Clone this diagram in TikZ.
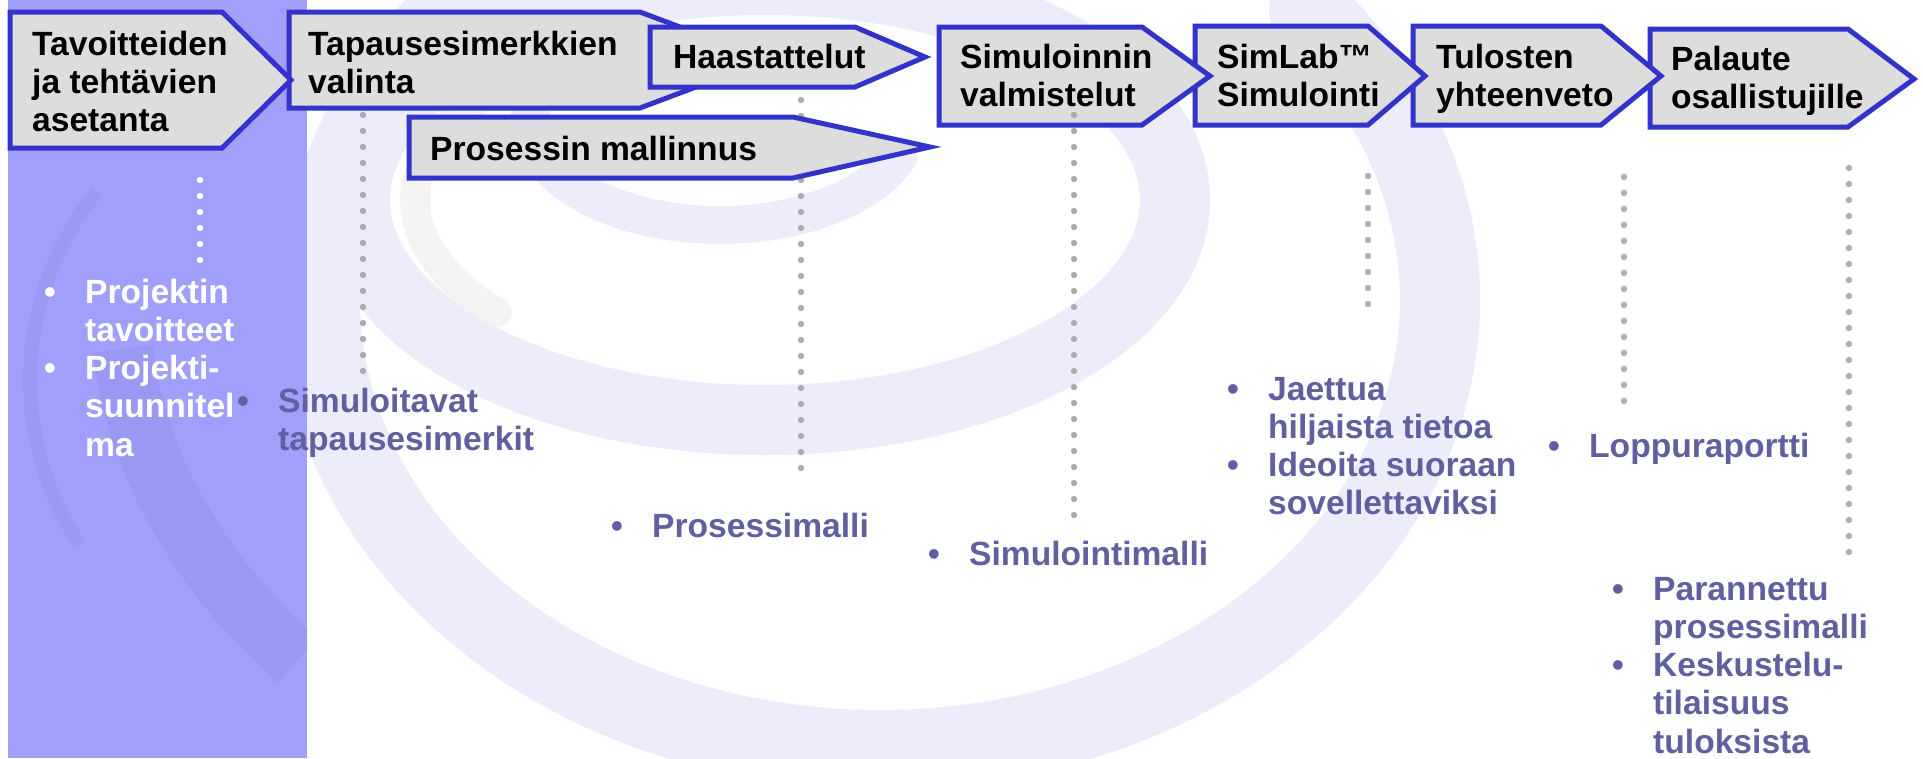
\documentclass[tikz,border=0pt]{standalone}
\usepackage{fontspec}
\setmainfont{Liberation Sans}
\definecolor{boxblue}{RGB}{51,51,204}
\definecolor{boxfill}{RGB}{221,221,221}
\definecolor{band}{RGB}{160,160,252}
\definecolor{bandd}{RGB}{138,138,228}
\definecolor{lav}{RGB}{236,236,251}
\definecolor{shade}{RGB}{243,243,244}
\definecolor{dotgray}{RGB}{172,172,172}
\definecolor{outtext}{RGB}{96,96,160}
\newcommand\mylines[1]{\vtop{\baselineskip=38pt\lineskiplimit=-1000pt\lineskip=0pt\halign{##\hfil\cr#1\crcr}}}
\newcommand\mybullets[1]{\vtop{\baselineskip=38.3pt\lineskiplimit=-1000pt\lineskip=0pt\halign{\hbox to 41pt{##\hfil}&##\hfil\cr#1\crcr}}}
\tikzset{
  stage/.style={draw=boxblue, line width=5pt, fill=boxfill, line join=miter},
  boxtxt/.style={anchor=base west, inner sep=0pt, font=\fontsize{33.6}{38}\selectfont\bfseries, text=black},
  bultxt/.style={boxtxt, text=outtext},
  whitetxt/.style={boxtxt, text=white},
  swirl/.style={draw=lav, line cap=round},
  gdot/.style={fill=dotgray, draw=none},
  wdot/.style={fill=white, draw=none}
}
\begin{document}
\begin{tikzpicture}[x=1pt,y=-1pt]
\useasboundingbox (0,0) rectangle (1923,758);
\fill[white] (0,0) rectangle (1923,758);
\begin{scope}
\clip (0,0) rectangle (1923,758);
% background swirl
\draw[swirl, line width=80pt] (880,300) ++(-40:560 and 450) arc[start angle=-40, end angle=220, x radius=560, y radius=450];
\draw[swirl, line width=70pt] (765,200) ellipse[x radius=410, y radius=220];
\draw[draw=shade, line width=30pt, line cap=round] (765,200) ++(140:350 and 175) arc[start angle=140, end angle=215, x radius=350, y radius=175];
\draw[swirl, line width=38pt] (720,120) ++(20:190 and 105) arc[start angle=20, end angle=200, x radius=190, y radius=105];
% purple band
\fill[band] (8,0) rectangle (307,758);
\begin{scope}
\clip (8,0) rectangle (307,758);
\draw[draw=bandd, line width=60pt, opacity=0.3] (880,300) ++(140:760 and 560) arc[start angle=140, end angle=175, x radius=760, y radius=560];
\draw[draw=bandd, line width=14pt, opacity=0.25] (400,380) ++(150:370 and 330) arc[start angle=150, end angle=215, x radius=370, y radius=330];
\end{scope}
\end{scope}
% dots behind boxes
\foreach \k in {0,...,23} \fill[gdot] (801,100+16*\k) circle (3.2);
% stages (drawn right to left so tips overlap the next box)
\draw[stage] (1650,29) -- (1848,29) -- (1914,79) -- (1848,127) -- (1650,127) -- cycle;
\draw[stage] (1413,26) -- (1601,26) -- (1661,76) -- (1601,125) -- (1413,125) -- cycle;
\draw[stage] (1195,26) -- (1368,26) -- (1425,76) -- (1368,125) -- (1195,125) -- cycle;
\draw[stage] (939,27) -- (1142,27) -- (1210,76) -- (1142,125) -- (939,125) -- cycle;
\draw[stage] (289,12) -- (640,12) -- (768,60) -- (640,108) -- (289,108) -- cycle;
\draw[stage] (409,117) -- (793,117) -- (930,147) -- (793,178) -- (409,178) -- cycle;
\draw[stage] (650,27) -- (855,27) -- (925,57) -- (855,87) -- (650,87) -- cycle;
\draw[stage] (10,12) -- (222,12) -- (291,80) -- (222,148) -- (10,148) -- cycle;
% dots in front
\foreach \k in {0,...,5} \fill[wdot] (200,180+16*\k) circle (3.2);
\foreach \k in {0,...,16} \fill[gdot] (363,115+16*\k) circle (3.2);
\foreach \k in {0,...,25} \fill[gdot] (1074,115+16*\k) circle (3.2);
\foreach \k in {0,...,8} \fill[gdot] (1368,176+16*\k) circle (3.2);
\foreach \k in {0,...,14} \fill[gdot] (1624,177+16*\k) circle (3.2);
\foreach \k in {0,...,24} \fill[gdot] (1849,168+16*\k) circle (3.2);
% stage texts
\node[boxtxt] (t1) at (32,55) {\mylines{Tavoitteiden\cr ja tehtävien\cr asetanta}};
\node[boxtxt] (t2) at (308,55) {\mylines{Tapausesimerkkien\cr valinta}};
\node[boxtxt] (t3) at (673,68) {\mylines{Haastattelut}};
\node[boxtxt] (t4) at (430,160) {\mylines{Prosessin mallinnus}};
\node[boxtxt] (t5) at (960,68) {\mylines{Simuloinnin\cr valmistelut}};
\node[boxtxt] (t6) at (1217,68) {\mylines{SimLab™\cr Simulointi}};
\node[boxtxt] (t7) at (1436,68) {\mylines{Tulosten\cr yhteenveto}};
\node[boxtxt] (t8) at (1671,70) {\mylines{Palaute\cr osallistujille}};
% outputs
\node[whitetxt] (o1) at (44,303) {\mybullets{•&Projektin\cr &tavoitteet\cr •&Projekti-\cr &suunnitel\cr &ma}};
\node[bultxt] (o2) at (237,412) {\mybullets{•&Simuloitavat\cr &tapausesimerkit}};
\node[bultxt] (o3) at (611,537) {\mybullets{•&Prosessimalli}};
\node[bultxt] (o4) at (928,565) {\mybullets{•&Simulointimalli}};
\node[bultxt] (o5) at (1227,400) {\mybullets{•&Jaettua\cr &hiljaista tietoa\cr •&Ideoita suoraan\cr &sovellettaviksi}};
\node[bultxt] (o6) at (1548,457) {\mybullets{•&Loppuraportti}};
\node[bultxt] (o7) at (1612,600) {\mybullets{•&Parannettu\cr &prosessimalli\cr •&Keskustelu-\cr &tilaisuus\cr &tuloksista}};
\end{tikzpicture}
\end{document}
